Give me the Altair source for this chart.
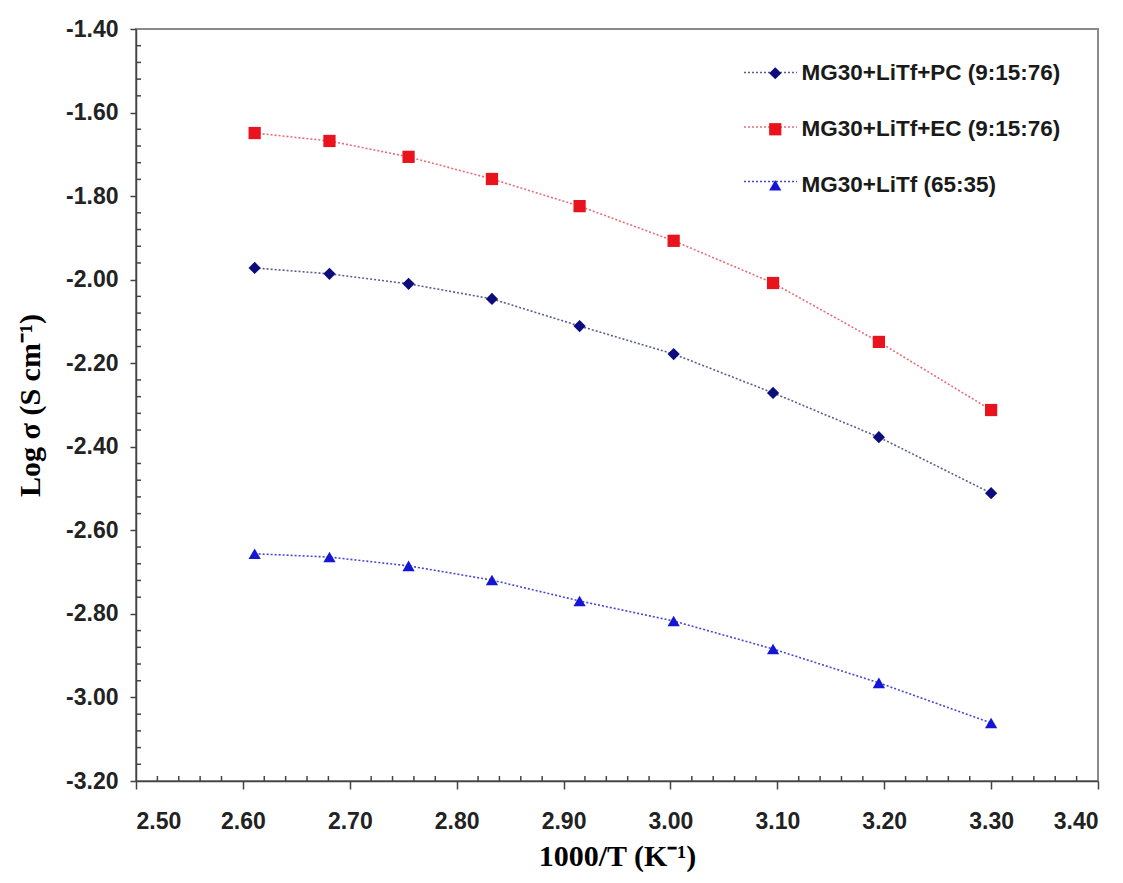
import altair as alt
import pandas as pd

# ---- data ----
inv_T = [2.611, 2.681, 2.755, 2.833, 2.915, 3.003, 3.096, 3.195, 3.300]
pc_vals = [-1.972, -1.986, -2.010, -2.046, -2.111, -2.178, -2.271, -2.377, -2.511]
ec_vals = [-1.649, -1.668, -1.706, -1.759, -1.824, -1.907, -2.008, -2.149, -2.312]
litf_vals = [-2.656, -2.664, -2.685, -2.719, -2.769, -2.817, -2.884, -2.965, -3.061]

series_names = ["MG30+LiTf+PC (9:15:76)", "MG30+LiTf+EC (9:15:76)", "MG30+LiTf (65:35)"]
line_keys = ["line PC", "line EC", "line LiTf"]
point_colors = ["#0c0c7c", "#e8131d", "#1515d6"]
line_colors = ["#5c5c8e", "#e86c78", "#4747d6"]
shapes = ["diamond", "square", "triangle-up"]

x_ticks = [2.50, 2.60, 2.70, 2.80, 2.90, 3.00, 3.10, 3.20, 3.30, 3.40]
y_ticks = [-3.20, -3.00, -2.80, -2.60, -2.40, -2.20, -2.00, -1.80, -1.60, -1.40]
x_minor = [round(2.50 + 0.02 * i, 2) for i in range(46) if i % 5 != 0]
y_minor = [round(-3.20 + 0.04 * i, 2) for i in range(46) if i % 5 != 0]

rows = []
for name, key, vals in zip(series_names, line_keys, [pc_vals, ec_vals, litf_vals]):
    for xv, yv in zip(inv_T, vals):
        rows.append({"x": xv, "y": yv, "series": name, "series_line": key})
df = pd.DataFrame(rows)
df_xminor = pd.DataFrame({"x": x_minor})
df_yminor = pd.DataFrame({"y": y_minor})

W, H = 962, 752
SANS = "Liberation Sans"
SERIF = "Liberation Serif"

xs = alt.Scale(domain=[2.5, 3.4], nice=False, zero=False)
ys = alt.Scale(domain=[-3.2, -1.4], nice=False, zero=False)

x_axis = alt.Axis(
    values=x_ticks, format=".2f",
    labelFont=SANS, labelFontSize=23, labelFontWeight="bold", labelColor="#222222",
    labelPadding=21, tickSize=8, tickColor="#444444", tickWidth=1.5,
    domainColor="#444444", domainWidth=1.5, grid=False,
    title="1000/T (K\u207b\u00b9)", titleFont=SERIF, titleFontSize=30,
    titleFontWeight="bold", titleColor="#000000", titlePadding=8,
)
y_axis = alt.Axis(
    values=y_ticks,
    labelExpr="replace(format(datum.value, '.2f'), '\u2212', '-')",
    labelFont=SANS, labelFontSize=23, labelFontWeight="bold", labelColor="#222222",
    labelPadding=12, tickSize=6, tickColor="#444444", tickWidth=1.5,
    domainColor="#444444", domainWidth=1.5, grid=False,
    title="Log \u03c3 (S cm\u207b\u00b9)", titleFont=SERIF, titleFontSize=30,
    titleFontWeight="bold", titleColor="#000000", titlePadding=20,
)

lines = alt.Chart(df).mark_line(strokeDash=[2, 2], strokeWidth=1.6).encode(
    x=alt.X("x:Q", scale=xs, axis=x_axis),
    y=alt.Y("y:Q", scale=ys, axis=y_axis),
    stroke=alt.Stroke(
        "series_line:N",
        scale=alt.Scale(domain=line_keys, range=line_colors),
        legend=alt.Legend(
            orient="none", legendX=607, legendY=16, title=None,
            symbolType="stroke", symbolSize=2809, symbolDash=[2, 2],
            symbolStrokeWidth=1.6, labelExpr="''", labelFontSize=22,
            rowPadding=15.5, padding=0,
        ),
    ),
    order="x:Q",
)

points = alt.Chart(df).mark_point(filled=True, size=150, opacity=1, strokeWidth=0).encode(
    x=alt.X("x:Q", scale=xs, axis=x_axis),
    y=alt.Y("y:Q", scale=ys, axis=y_axis),
    fill=alt.Fill(
        "series:N",
        scale=alt.Scale(domain=series_names, range=point_colors),
        legend=alt.Legend(
            orient="none", legendX=628, legendY=33, title=None,
            symbolSize=150, symbolStrokeWidth=0,
            labelFont=SANS, labelFontSize=22.5, labelFontWeight="bold",
            labelColor="#1a1a1a", labelOffset=15, rowPadding=33, padding=0,
            labelLimit=400,
        ),
    ),
    shape=alt.Shape("series:N", scale=alt.Scale(domain=series_names, range=shapes)),
)

x_minor_ticks = alt.Chart(df_xminor).mark_rule(color="#444444", strokeWidth=1.5).encode(
    x=alt.X("x:Q", scale=xs, axis=x_axis),
    y=alt.value(H),
    y2=alt.value(H - 5),
)
y_minor_ticks = alt.Chart(df_yminor).mark_rule(color="#444444", strokeWidth=1.5).encode(
    y=alt.Y("y:Q", scale=ys, axis=y_axis),
    x=alt.value(0),
    x2=alt.value(5),
)

chart = alt.layer(lines, points, x_minor_ticks, y_minor_ticks).properties(
    width=W, height=H,
    autosize=alt.AutoSizeParams(type="none"),
    padding={"left": 128, "top": 21, "right": 17, "bottom": 94},
    background="white",
).configure_view(stroke="#8a8a8a", strokeWidth=2)

chart.save("out.html", embed_options={"renderer": "svg", "actions": False})
